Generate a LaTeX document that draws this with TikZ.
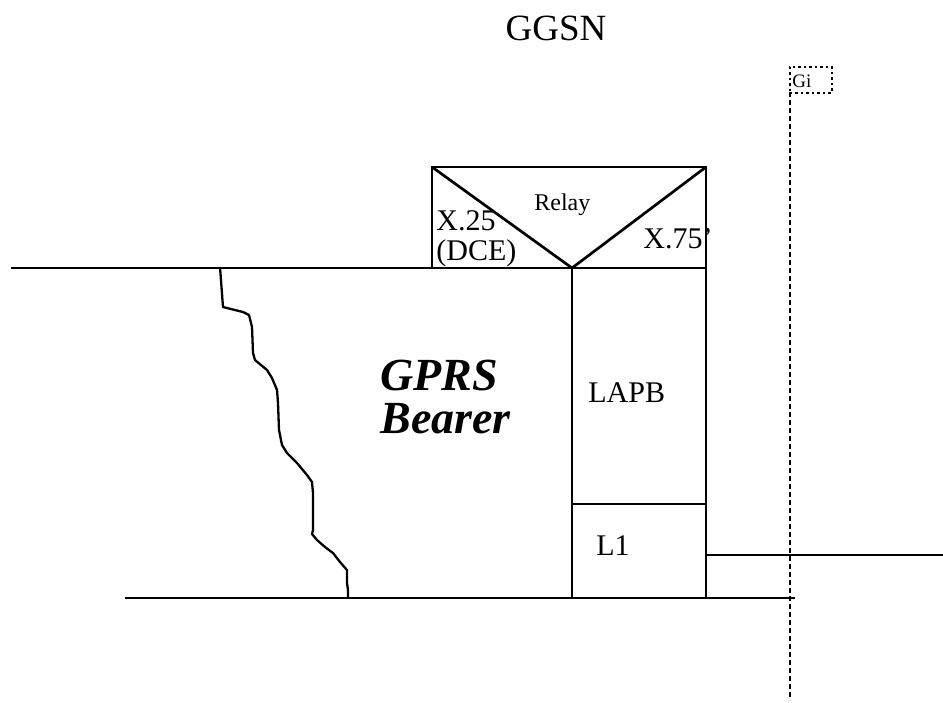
\documentclass[tikz,border=0pt]{standalone}
\usepackage{fontspec}
\setmainfont{Liberation Serif}
\begin{document}
\begin{tikzpicture}[x=1pt,y=-1pt,line width=2.7pt,
  lbl/.style={anchor=base west,inner sep=0pt,font=\fontsize{30}{36}\selectfont},
  gidash/.style={line width=1.8pt,dash pattern=on 5pt off 3pt},
  gidot/.style={line width=1.8pt,dash pattern=on 2.5pt off 3pt}]
\useasboundingbox (0,0) rectangle (943,702);
% corner points
\coordinate (rtl) at (432,167); \coordinate (rtr) at (706,167);
\coordinate (rbl) at (432,268); \coordinate (apex) at (572,268);
\coordinate (rbr) at (706,268); \coordinate (tl) at (11,268);
\coordinate (lapb) at (572,504); \coordinate (lapbr) at (706,504);
\coordinate (bl) at (572,598); \coordinate (br) at (706,598);
\coordinate (gil) at (706,555); \coordinate (gir) at (943,555);
\coordinate (botl) at (125,598); \coordinate (botr) at (795,598);
\coordinate (dtop) at (790,92); \coordinate (dbot) at (790,700);
% relay box
\draw (rtl) rectangle (rbr);
\draw (rtl) -- (apex) -- (rtr);
% stack
\draw (tl) -- (rbr);
\draw (apex) -- (bl); \draw (rbr) -- (br);
\draw (lapb) -- (lapbr);
\draw (gil) -- (gir);
\draw (botl) -- (botr);
% ragged edge
\draw[line width=2.3pt,line join=round] (220,267) -- (223,307) -- (243,312) -- (249,315) -- (252,327)
  -- (253,353) -- (255,360) -- (267,370) -- (272,378) -- (277,390) -- (278,403)
  -- (279,430) -- (282,445) -- (287,453) -- (297,463) -- (307,475) -- (312,482)
  -- (313,493) -- (313,530) -- (312,534) -- (317,540) -- (325,547) -- (333,553)
  -- (340,562) -- (347,570) -- (347,583) -- (348,590) -- (348,598);
% reference point Gi
\node[draw,gidot,anchor=north west,minimum width=42pt,minimum height=26pt,inner sep=0pt] (gi) at (789,66) {};
\node[anchor=base west,inner sep=0pt,font=\fontsize{19}{22}\selectfont] (gitxt) at (791,87) {Gi};
\draw[gidash] (dtop) -- (dbot);
% labels
\node[anchor=base,inner sep=0pt,font=\fontsize{37}{44}\selectfont] (ggsn) at (556,40) {GGSN};
\node[lbl,font=\fontsize{24}{28}\selectfont] (relay) at (533,210) {Relay};
\node[lbl] (x25) at (435,230) {X.25};
\node[lbl] (dce) at (435,260) {(DCE)};
\node[lbl] (x75) at (642,248) {X.75’};
\node[lbl] (lapbtxt) at (587,402) {LAPB};
\node[lbl] (l1) at (595,555) {L1};
\node[anchor=base west,inner sep=0pt,align=left,font=\fontsize{46}{43}\selectfont\bfseries\itshape] (bearer) at (379,433) {GPRS\\Bearer};
\end{tikzpicture}
\end{document}
